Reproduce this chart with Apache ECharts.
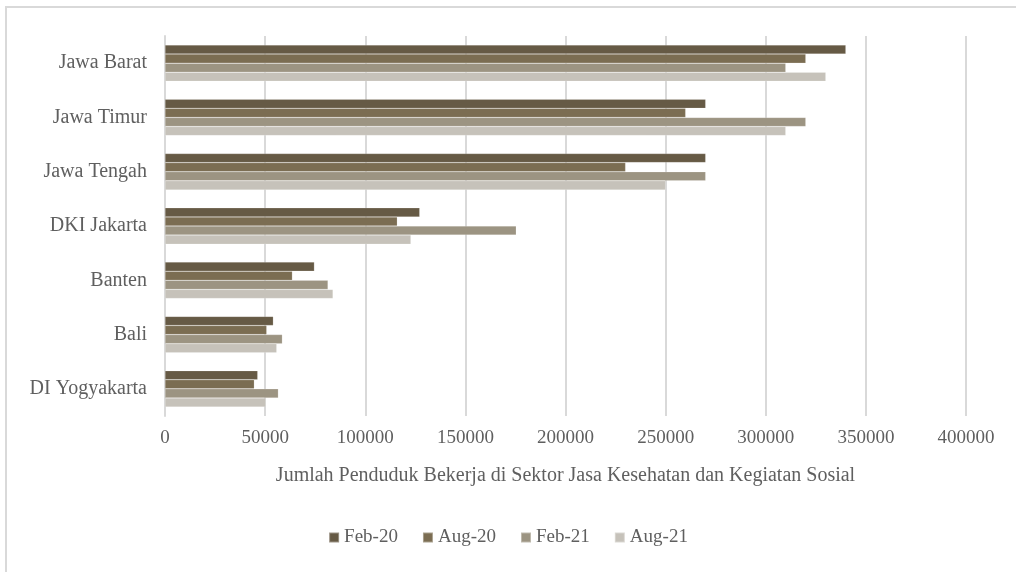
<!DOCTYPE html>
<html>
<head>
<meta charset="utf-8">
<script src="https://cdn.jsdelivr.net/npm/echarts@6/dist/echarts.min.js"></script>
<style>
  html, body { margin: 0; padding: 0; background: #fff; }
  #frame { position: absolute; left: 5px; top: 6px; width: 1020px; height: 580px;
           border-left: 2px solid #d9d9d9; border-top: 2px solid #d9d9d9; box-sizing: border-box; }
  #chart { position: absolute; left: 0; top: 0; width: 1016px; height: 572px; }
</style>
</head>
<body>
<div id="frame"></div>
<div id="chart"></div>
<script>
// categories bottom -> top (echarts category y-axis starts at the bottom)
var provinces = ['DI Yogyakarta', 'Bali', 'Banten', 'DKI Jakarta', 'Jawa Tengah', 'Jawa Timur', 'Jawa Barat'];
var periods = ['Feb-20', 'Aug-20', 'Feb-21', 'Aug-21'];

var feb20 = [46300, 54100, 74600, 127200, 270000, 270000, 340000];
var aug20 = [44600, 50800, 63600, 116000, 230000, 260000, 320000];
var feb21 = [56600, 58600, 81400, 175400, 270000, 320000, 310000];
var aug21 = [50300, 55800, 83900, 122800, 250000, 310000, 330000];

var colors = ['#665a45', '#7b6d52', '#9c9482', '#c6c2ba'];
var font = '"Liberation Serif", "DejaVu Serif", serif';
var textColor = '#5f5f5f';

var myChart = echarts.init(document.getElementById('chart'), null, { renderer: 'canvas' });

var seriesData = [feb20, aug20, feb21, aug21];

var series = seriesData.map(function (d, i) {
    return {
        name: periods[i],
        type: 'bar',
        data: d,
        barGap: '0%',
        barCategoryGap: '33%',
        itemStyle: { color: colors[i], borderColor: 'rgba(255,255,255,0.35)', borderWidth: 0.5 },
        animation: false
    };
});

var option = {
    backgroundColor: 'transparent',
    color: colors,
    textStyle: { fontFamily: font },
    grid: { left: 165, right: 50, top: 36, bottom: 156, containLabel: false },
    legend: {
        data: periods,
        bottom: 20,
        left: 'center',
        itemWidth: 10,
        itemHeight: 10,
        itemGap: 24,
        icon: 'rect',
        textStyle: { fontFamily: font, fontSize: 19, color: textColor }
    },
    xAxis: {
        type: 'value',
        min: 0,
        max: 400000,
        interval: 50000,
        name: 'Jumlah Penduduk Bekerja di Sektor Jasa Kesehatan dan Kegiatan Sosial',
        nameLocation: 'middle',
        nameGap: 50,
        nameTextStyle: { fontFamily: font, fontSize: 20, color: textColor },
        axisLine: { show: false },
        axisTick: { show: false },
        axisLabel: {
            fontFamily: font, fontSize: 19, color: textColor, margin: 13,
            formatter: function (v) { return String(v); }
        },
        splitLine: { show: true, lineStyle: { color: '#d9d9d9', width: 2 } }
    },
    yAxis: {
        type: 'category',
        data: provinces,
        axisLine: { show: true, lineStyle: { color: '#d9d9d9', width: 2 } },
        axisTick: { show: false },
        axisLabel: { fontFamily: font, fontSize: 20, color: textColor, margin: 18 }
    },
    series: series
};

myChart.setOption(option);
</script>
</body>
</html>
